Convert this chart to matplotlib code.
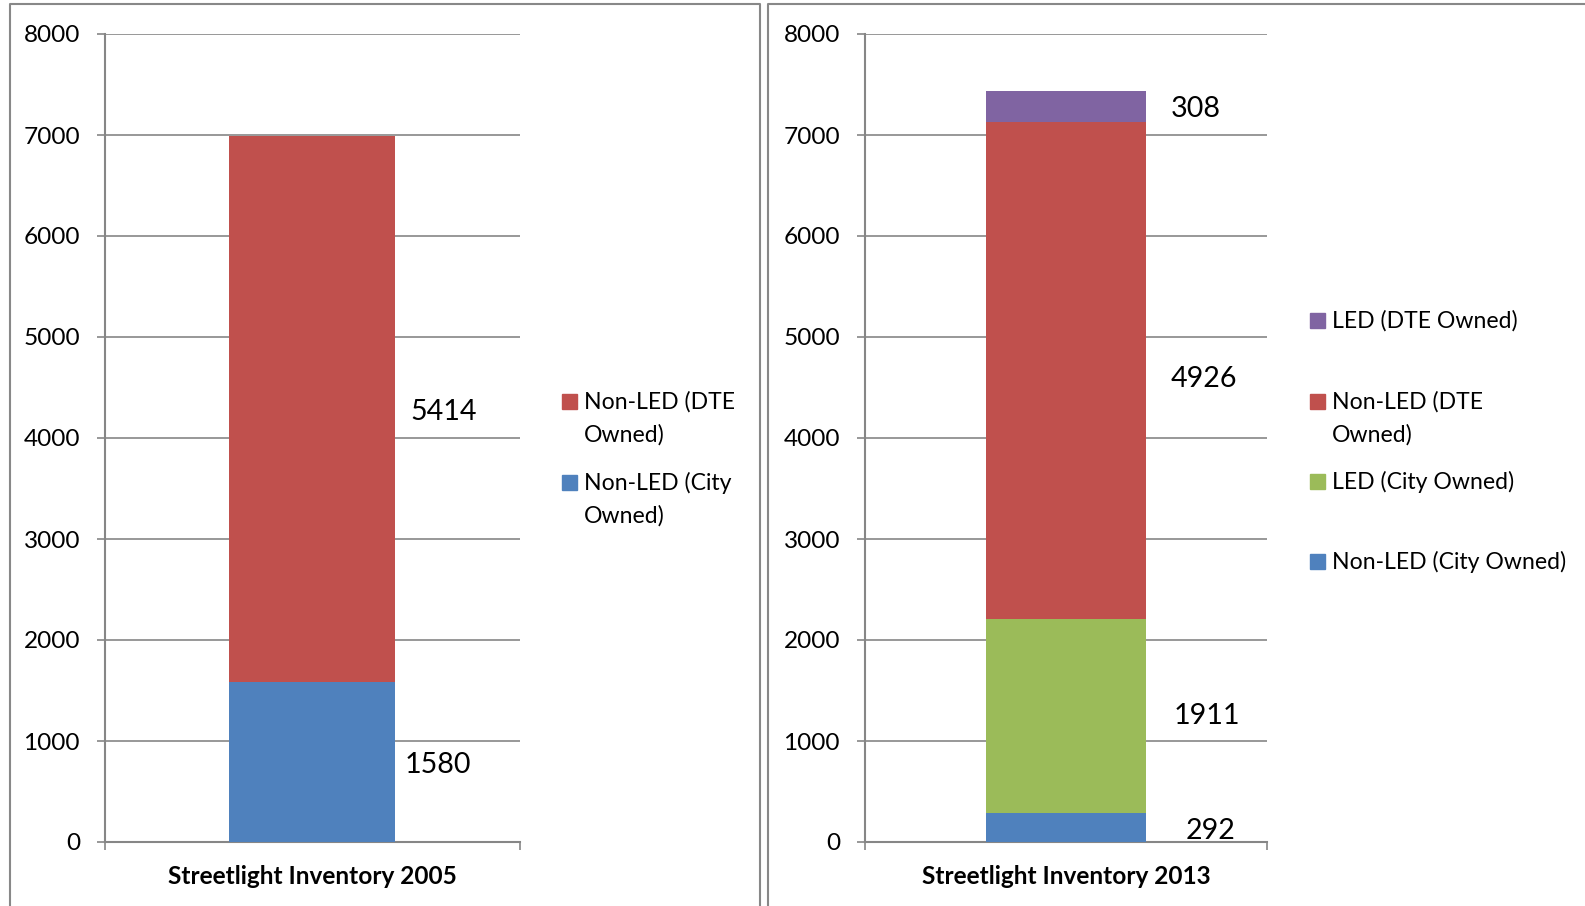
import matplotlib.pyplot as plt
from matplotlib.lines import Line2D
from matplotlib.patches import Rectangle

# data
titles = ["Streetlight Inventory 2005", "Streetlight Inventory 2013"]
series_2005 = ["Non-LED (City Owned)", "Non-LED (DTE Owned)"]
values_2005 = [1580, 5414]
series_2013 = ["Non-LED (City Owned)", "LED (City Owned)", "Non-LED (DTE Owned)", "LED (DTE Owned)"]
values_2013 = [292, 1911, 4926, 308]
colors = {
    "Non-LED (City Owned)": "#4F81BD",
    "LED (City Owned)": "#9BBB59",
    "Non-LED (DTE Owned)": "#C0504D",
    "LED (DTE Owned)": "#8064A2",
}

W, H = 1585, 906
plt.rcParams['font.family'] = ['Lato', 'DejaVu Sans']
fig = plt.figure(figsize=(W / 100, H / 100), dpi=100)
GRAY = "#868686"


def fx(px):
    return px / W


def fy(py):
    return 1 - py / H


# panel frames (pixel coords)
for xs, ys in [([10, 10, 760, 760], [H + 5, 4, 4, H + 5]),
               ([768, 768, W + 5], [H + 5, 4, 4])]:
    fig.add_artist(Line2D([fx(x) for x in xs], [fy(y) for y in ys],
                          color="#888888", lw=1.5, transform=fig.transFigure))

axes_px = [(105, 520), (865, 1267)]
# label nudges in px: (right of bar edge, down)
label_offsets = [[(9, 3), (15, 3)], [(39, 4), (27, 0), (24, 8), (24, 3)]]
legend_px = [
    (562, [("Non-LED (DTE Owned)", ["Non-LED (DTE", "Owned)"], 402),
           ("Non-LED (City Owned)", ["Non-LED (City", "Owned)"], 483)]),
    (1310, [("LED (DTE Owned)", ["LED (DTE Owned)"], 321),
            ("Non-LED (DTE Owned)", ["Non-LED (DTE", "Owned)"], 402),
            ("LED (City Owned)", ["LED (City Owned)"], 482),
            ("Non-LED (City Owned)", ["Non-LED (City Owned)"], 562)]),
]

for i, (names, vals) in enumerate([(series_2005, values_2005), (series_2013, values_2013)]):
    x0, x1 = axes_px[i]
    ax = fig.add_axes([fx(x0), fy(842), fx(x1 - x0), (842 - 34) / H])
    bottom = 0
    for j, (n, v) in enumerate(zip(names, vals)):
        ax.bar(0, v, width=0.4, bottom=bottom, color=colors[n], zorder=3)
        dx, dy = label_offsets[i][j]
        ax.annotate(str(v), xy=(0.2, bottom + v / 2), xytext=(dx * 0.72, -dy * 0.72),
                    textcoords="offset points", ha="left", va="center", fontsize=20.6, color="black")
        bottom += v
    ax.set_xlim(-0.5, 0.5)
    ax.set_ylim(0, 8000)
    ax.set_yticks(range(0, 8001, 1000))
    ax.set_xticks([-0.5, 0.5])
    ax.set_xticklabels([])
    ax.tick_params(axis="y", length=6, width=1.2, color=GRAY, pad=12, labelsize=17.6)
    ax.tick_params(axis="x", length=6, width=1.2, color=GRAY)
    ax.yaxis.grid(True, color=GRAY, lw=1.2, zorder=0)
    ax.set_axisbelow(True)
    for s in ["top", "right"]:
        ax.spines[s].set_visible(False)
    for s in ["left", "bottom"]:
        ax.spines[s].set_color(GRAY)
        ax.spines[s].set_linewidth(1.5)
    ax.text(0.5, -(877 - 842) / (842 - 34), titles[i], transform=ax.transAxes,
            ha="center", va="center", fontsize=17.6, fontweight="bold")

    # legend drawn entry by entry, Excel style
    lx, entries = legend_px[i]
    for name, lines, y in entries:
        fig.add_artist(Rectangle((fx(lx), fy(y + 7)), fx(15), 15 / H,
                                 color=colors[name], transform=fig.transFigure))
        for k, line in enumerate(lines):
            fig.text(fx(lx + 22), fy(y + k * 33), line, ha="left", va="center", fontsize=16.6)

fig.savefig("out.png", dpi=100)
